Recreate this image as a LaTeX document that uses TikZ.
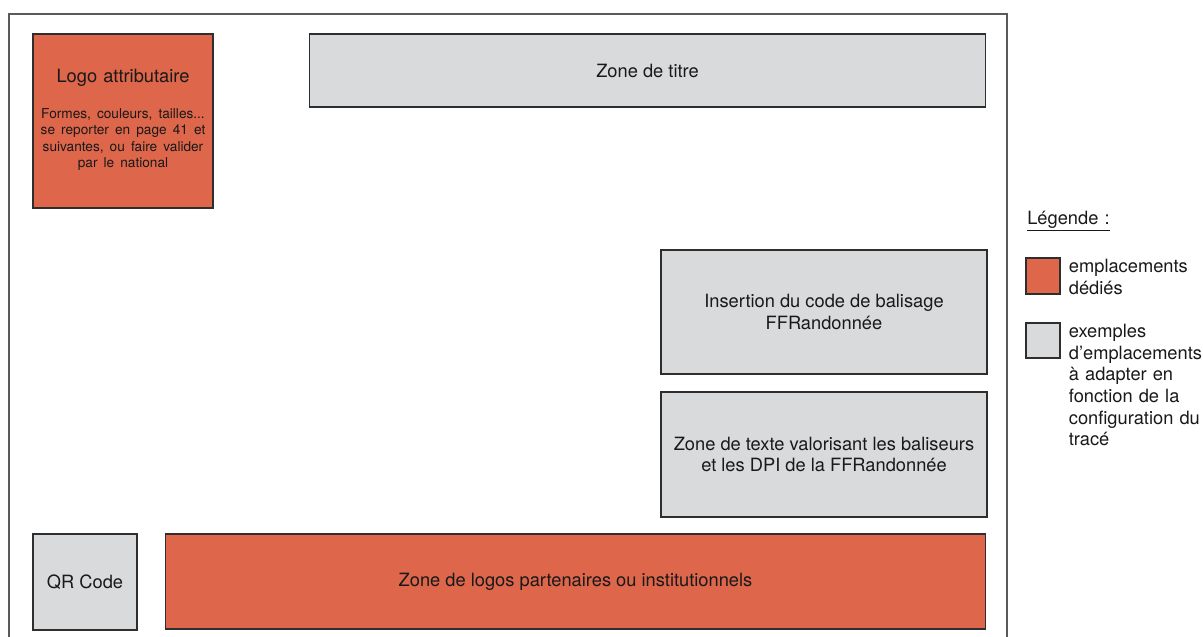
\documentclass[tikz,border=0pt]{standalone}
\usepackage{fontspec}
\setmainfont{TeX Gyre Heros}
\usepackage{xcolor}
\definecolor{rouge}{HTML}{DD664B}
\definecolor{gris}{HTML}{D9DADB}
\definecolor{trait}{HTML}{2E2E2E}
\definecolor{cadre}{HTML}{5A5A5A}
\tikzset{
  zone/.style = {draw=trait, line width=0.8pt, align=center, text=black!90,
                 font=\fontsize{13}{15.5}\selectfont, inner sep=2pt},
  dedie/.style = {zone, fill=rouge},
  exemple/.style = {zone, fill=gris},
  legtext/.style = {anchor=north west, inner sep=0pt, align=left, text width=3.6cm,
                    font=\fontsize{13}{15.4}\selectfont, text=black!90}
}
\begin{document}
\begin{tikzpicture}[x=0.025cm, y=-0.025cm]
  \useasboundingbox (0,0) rectangle (1203,637);
  % cadre de la page
  \draw[cadre, line width=1.1pt] (9,660) -- (9,14) -- (1007,14) -- (1007,660);

  % emplacements
  \node[dedie, minimum width=4.5cm, minimum height=4.35cm, text width=4.3cm] (logo) at (123,121)
    {Logo attributaire\\[10pt]
     {\fontsize{9.7}{11.7}\selectfont\begin{tabular}[t]{@{}c@{}}
      Formes, couleurs, tailles...\\ se reporter en page 41 et\\
      suivantes, ou faire valider\\ par le national\end{tabular}}};
  \node[exemple, minimum width=16.875cm, minimum height=1.825cm] (titre) at (647.5,70.5)
    {Zone de titre};
  \node[exemple, minimum width=8.15cm, minimum height=3.1cm] (balisage) at (824,312)
    {Insertion du code de balisage\\ FFRandonnée};
  \node[exemple, minimum width=8.15cm, minimum height=3.125cm] (baliseurs) at (824,454.5)
    {Zone de texte valorisant les baliseurs\\ et les DPI de la FFRandonnée};
  \node[exemple, minimum width=2.6cm, minimum height=2.4cm] (qr) at (85,582)
    {QR Code};
  \node[dedie, minimum width=20.475cm, minimum height=2.375cm] (partenaires) at (575.5,581.5)
    {Zone de logos partenaires ou institutionnels};

  % legende
  \node[legtext, anchor=west] (legende) at (1027,221) {\underline{Légende :}};
  \node[dedie, minimum width=0.85cm, minimum height=0.9cm, inner sep=0pt] (legA) at (1043,276) {};
  \node[legtext] (legAtxt) at ([xshift=0.2cm, yshift=-1pt]legA.north east)
    {emplacements\\ dédiés};
  \node[exemple, minimum width=0.85cm, minimum height=0.875cm, inner sep=0pt] (legB) at (1043,340.5) {};
  \node[legtext] (legBtxt) at ([xshift=0.2cm, yshift=-1pt]legB.north east)
    {exemples\\ d’emplacements\\ à adapter en\\ fonction de la\\ configuration du\\ tracé};
\end{tikzpicture}
\end{document}
